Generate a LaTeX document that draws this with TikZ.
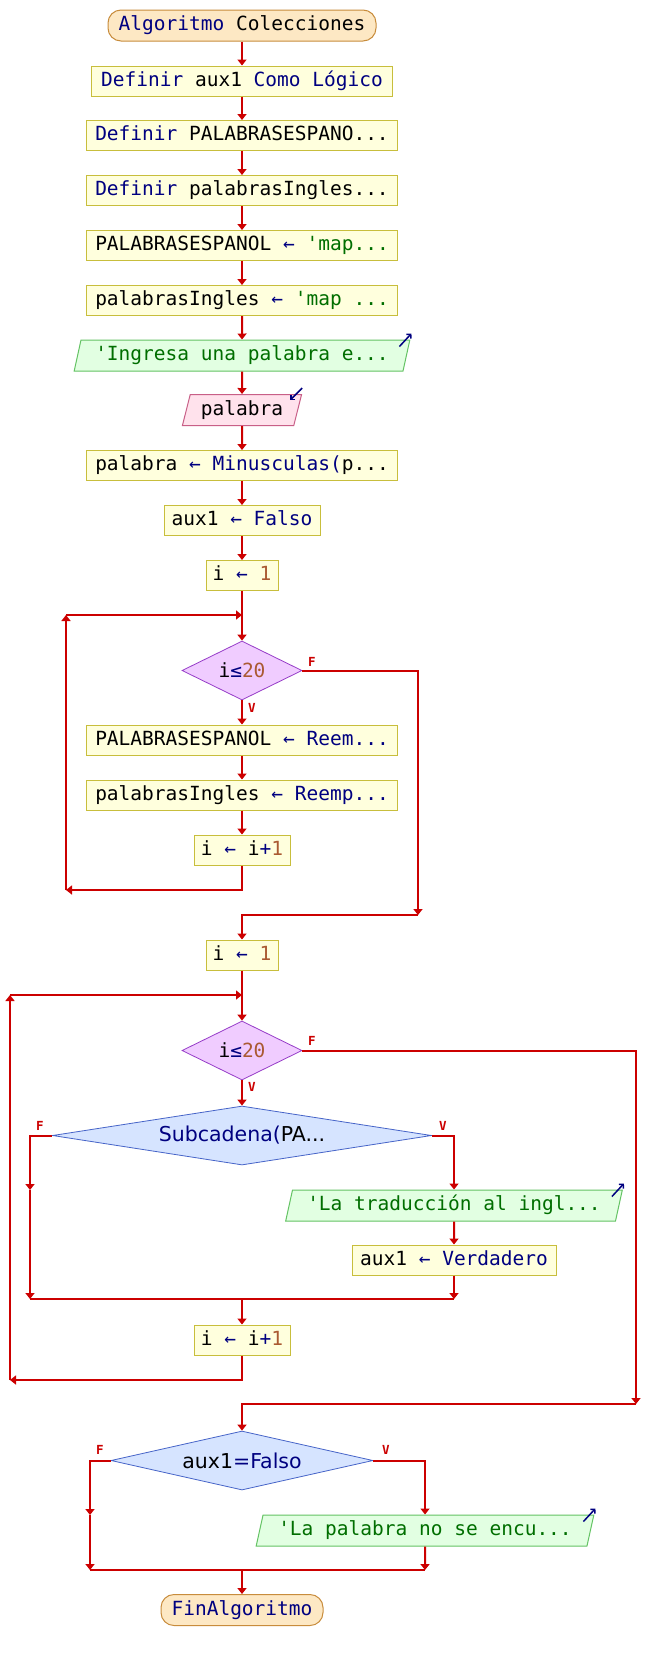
\documentclass[tikz,border=0pt]{standalone}
\usepackage{fontspec}
\usepackage{xcolor}
\usepackage{tikz}
\usetikzlibrary{shapes.geometric, arrows.meta}
\newfontfamily\flowmono{DejaVu Sans Mono}
\newfontfamily\flowsans{DejaVu Sans}
\definecolor{flowred}{RGB}{204, 0, 0}
\definecolor{kwnavy}{RGB}{0, 0, 128}
\definecolor{strgreen}{RGB}{0, 110, 0}
\definecolor{numbrown}{RGB}{170, 90, 50}
\definecolor{procfill}{RGB}{255, 255, 221}
\definecolor{procline}{RGB}{200, 190, 60}
\definecolor{termfill}{RGB}{253, 232, 196}
\definecolor{termline}{RGB}{200, 140, 60}
\definecolor{outfill}{RGB}{226, 255, 226}
\definecolor{outline}{RGB}{100, 195, 100}
\definecolor{infill}{RGB}{255, 226, 236}
\definecolor{inline}{RGB}{200, 95, 135}
\definecolor{loopfill}{RGB}{240, 204, 255}
\definecolor{loopline}{RGB}{150, 60, 200}
\definecolor{iffill}{RGB}{214, 228, 255}
\definecolor{ifline}{RGB}{70, 100, 200}
\newcommand{\pkw}[1]{\textcolor{kwnavy}{#1}}
\newcommand{\pstr}[1]{\textcolor{strgreen}{#1}}
\newcommand{\pnum}[1]{\textcolor{numbrown}{#1}}

\begin{document}
\begin{tikzpicture}[x=1pt, y=-1pt,
    wire/.style={draw=flowred, line width=2pt},
    flow/.style={wire, -{Triangle[width=9pt, length=6pt]}},
    proc/.style={rectangle, draw=procline, fill=procfill, line width=1pt, minimum height=30pt, inner sep=0pt, text height=14pt, text depth=4pt, font=\flowmono\fontsize{19.5}{22}\selectfont},
    term/.style={proc, draw=termline, fill=termfill, rounded corners=13pt, minimum height=31pt},
    outbox/.style={trapezium, trapezium left angle=71, trapezium right angle=109, trapezium stretches=true, draw=outline, fill=outfill, line width=1pt, minimum height=31pt, inner sep=0pt, text height=14pt, text depth=4pt, font=\flowmono\fontsize{19.5}{22}\selectfont},
    inbox/.style={outbox, draw=inline, fill=infill},
    loopcond/.style={diamond, draw=loopline, fill=loopfill, line width=0.8pt, inner sep=0pt, minimum height=59pt, font=\flowmono\fontsize{19.5}{22}\selectfont},
    ifcond/.style={diamond, draw=ifline, fill=iffill, line width=0.8pt, inner sep=0pt, minimum height=59pt, font=\flowsans\fontsize{20.5}{23}\selectfont},
    branch/.style={text=flowred, inner sep=0pt, font=\flowmono\bfseries\fontsize{12.5}{14}\selectfont},
    icon/.style={draw=kwnavy, line width=1.5pt, -{Straight Barb[length=3pt, width=6pt]}}
]
    \fill[white] (0,0) rectangle (646,1660);
    \useasboundingbox (0,0) rectangle (646,1660);

    \node[term, minimum width=268pt] (start) at (242,25.5) {\pkw{Algoritmo} Colecciones};
    \node[proc, minimum width=301pt] (def1) at (242,81) {\pkw{Definir} aux1 \pkw{Como} \pkw{Lógico}};
    \node[proc, minimum width=311pt] (def2) at (242,135.5) {\pkw{Definir} PALABRASESPANO...};
    \node[proc, minimum width=311pt] (def3) at (242,190.5) {\pkw{Definir} palabrasIngles...};
    \node[proc, minimum width=311pt] (setesp) at (242,245.5) {PALABRASESPANOL \pkw{←} \pstr{'map...}};
    \node[proc, minimum width=311pt] (seting) at (242,300.5) {palabrasIngles \pkw{←} \pstr{'map ...}};
    \node[outbox, minimum width=336pt] (askword) at (242,355.5) {\pstr{'Ingresa una palabra e...}};
    \node[inbox, minimum width=120pt] (readword) at (242,410) {palabra};
    \node[proc, minimum width=311pt] (lower) at (242,465.5) {palabra \pkw{←} \pkw{Minusculas(}p...};
    \node[proc, minimum width=156pt] (found0) at (242,520.5) {aux1 \pkw{←} \pkw{Falso}};
    \node[proc, minimum width=72pt] (init1) at (242,575.5) {i \pkw{←} \pnum{1}};
    \node[loopcond, minimum width=120pt, aspect=2] (while1) at (242,670.5) {i\pkw{≤}\pnum{20}};
    \node[proc, minimum width=311pt] (repesp) at (242,740) {PALABRASESPANOL \pkw{←} \pkw{Reem...}};
    \node[proc, minimum width=311pt] (reping) at (242,795) {palabrasIngles \pkw{←} \pkw{Reemp...}};
    \node[proc, minimum width=96pt] (incr1) at (242,850) {i \pkw{←} i\pkw{+}\pnum{1}};
    \node[proc, minimum width=72pt] (init2) at (242,955) {i \pkw{←} \pnum{1}};
    \node[loopcond, minimum width=120pt, aspect=2] (while2) at (242,1050.5) {i\pkw{≤}\pnum{20}};
    \node[ifcond, minimum width=379pt, aspect=6.4] (found) at (242,1135.5) {\pkw{Subcadena(}PA...};
    \node[outbox, minimum width=337pt] (showtr) at (454,1205.5) {\pstr{'La traducción al ingl...}};
    \node[proc, minimum width=204pt] (found1) at (454,1260) {aux1 \pkw{←} \pkw{Verdadero}};
    \node[proc, minimum width=96pt] (incr2) at (242,1340) {i \pkw{←} i\pkw{+}\pnum{1}};
    \node[ifcond, minimum width=262pt, aspect=4.4] (notfound) at (242,1460.5) {aux1\pkw{=Falso}};
    \node[outbox, minimum width=338pt] (shownf) at (425,1530.5) {\pstr{'La palabra no se encu...}};
    \node[term, minimum width=162pt] (fin) at (242,1610) {\pkw{FinAlgoritmo}};

    \node[branch] (w1f) at (312,661.5) {F};
    \node[branch] (w1v) at (252,707.5) {V};
    \node[branch] (w2f) at (312,1041) {F};
    \node[branch] (w2v) at (252,1087) {V};
    \node[branch] (if1f) at (40,1126) {F};
    \node[branch] (if1v) at (443,1126) {V};
    \node[branch] (if2f) at (100,1450) {F};
    \node[branch] (if2v) at (386,1450) {V};

    \draw[icon] ([shift={(-11,7)}]askword.top right corner) -- ([shift={(1,-6)}]askword.top right corner);
    \draw[icon] ([shift={(0,-6)}]readword.top right corner) -- ([shift={(-12,6)}]readword.top right corner);
    \draw[icon] ([shift={(-11,7)}]showtr.top right corner) -- ([shift={(1,-6)}]showtr.top right corner);
    \draw[icon] ([shift={(-11,7)}]shownf.top right corner) -- ([shift={(1,-6)}]shownf.top right corner);

    \coordinate (lb1a) at (66,890);
    \coordinate (lb1b) at (66,615);
    \coordinate (lb1c) at (242,615);
    \coordinate (ex1) at (418,915);
    \coordinate (lb2a) at (10,1380);
    \coordinate (lb2b) at (10,995);
    \coordinate (lb2c) at (242,995);
    \coordinate (ex2) at (636,1404);
    \coordinate (f1a) at (30,1190);
    \coordinate (f1b) at (30,1299);
    \coordinate (j1m) at (242,1299);
    \coordinate (j1r) at (454,1299);
    \coordinate (f2a) at (90,1515);
    \coordinate (f2b) at (90,1570);
    \coordinate (j2m) at (242,1570);
    \coordinate (j2r) at (425,1570);

    \draw[flow] (start) -- (def1);
    \draw[flow] (def1) -- (def2);
    \draw[flow] (def2) -- (def3);
    \draw[flow] (def3) -- (setesp);
    \draw[flow] (setesp) -- (seting);
    \draw[flow] (seting) -- (askword.north);
    \draw[flow] (askword.south) -- (readword.north);
    \draw[flow] (readword.south) -- (lower);
    \draw[flow] (lower) -- (found0);
    \draw[flow] (found0) -- (init1);
    \draw[flow] (init1) -- (while1);
    \draw[flow] (while1) -- (repesp);
    \draw[flow] (repesp) -- (reping);
    \draw[flow] (reping) -- (incr1);
    \draw[flow] (incr1.south) |- (lb1a);
    \draw[flow] (lb1a) -- (lb1b);
    \draw[flow] (lb1b) -- (lb1c);
    \draw[flow] (while1.east) -| (ex1);
    \draw[flow] (ex1) -| (init2.north);

    \draw[flow] (init2) -- (while2);
    \draw[flow] (while2) -- (found);
    \draw[flow] (found.west) -| (f1a);
    \draw[flow] (f1a) -- (f1b);
    \draw[flow] (found.east) -| (showtr.north);
    \draw[flow] (showtr.south) -- (found1);
    \draw[flow] (found1) -- (j1r);
    \draw[wire] (f1b) -- (j1r);
    \draw[flow] (j1m) -- (incr2);
    \draw[flow] (incr2.south) |- (lb2a);
    \draw[flow] (lb2a) -- (lb2b);
    \draw[flow] (lb2b) -- (lb2c);
    \draw[flow] (while2.east) -| (ex2);
    \draw[flow] (ex2) -| (notfound.north);

    \draw[flow] (notfound.west) -| (f2a);
    \draw[flow] (f2a) -- (f2b);
    \draw[flow] (notfound.east) -| (shownf.north);
    \draw[flow] (shownf.south) -- (j2r);
    \draw[wire] (f2b) -- (j2r);
    \draw[flow] (j2m) -- (fin);
\end{tikzpicture}
\end{document}
